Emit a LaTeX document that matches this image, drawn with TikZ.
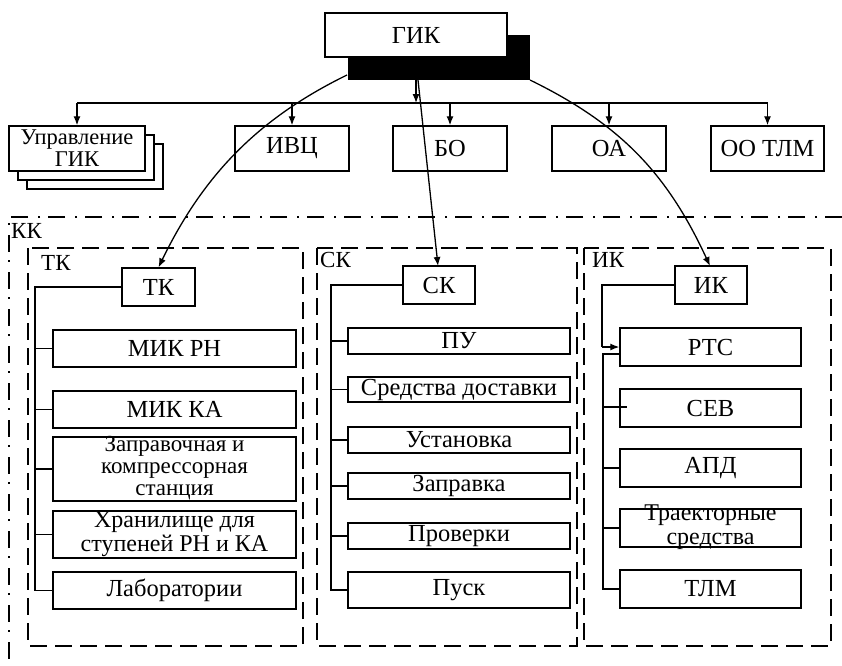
\documentclass[tikz,border=0pt]{standalone}
\usepackage{fontspec}
\setmainfont{Liberation Serif}
\usetikzlibrary{arrows.meta,calc}
\begin{document}
\begin{tikzpicture}[x=1pt,y=-1pt,
 box/.style={draw,line width=1.4pt,fill=white,inner sep=0pt,align=center,font=\fontsize{24.5}{22.5}\selectfont},
 txt/.style={inner sep=0pt,align=center,font=\fontsize{24}{23.5}\selectfont},
 lbl/.style={inner sep=0pt,anchor=west,font=\fontsize{23}{24}\selectfont},
 conn/.style={line width=1.3pt},
 arr/.style={line width=1.3pt,-{Latex[length=9pt,width=7pt]}},
 grp/.style={line width=1.4pt,dash pattern=on 17pt off 8pt},
 kkline/.style={line width=1.4pt,dash pattern=on 17pt off 8pt on 2pt off 10pt},
]
\useasboundingbox (0,0) rectangle (842,665);

% ---- top: GIK with shadow
\node[fill=black,inner sep=0pt,minimum width=182,minimum height=45] (gikshadow) at (439,57.5) {};
\node[box,minimum width=182,minimum height=44] (gik) at (416,35) {ГИК};

% ---- second level
\node[box,minimum width=136,minimum height=45] (upr3) at (95,166.5) {};
\node[box,minimum width=136,minimum height=45] (upr2) at (86,157.5) {};
\node[box,minimum width=136,minimum height=45] (upr) at (77,148.5) {};
\node[txt,font=\fontsize{22.5}{21.5}\selectfont] (uprtxt) at (77,148) {Управление\\ГИК};
\node[box,minimum width=114,minimum height=45] (ivc) at (292,148.5) {ИВЦ};
\node[box,minimum width=114,minimum height=45] (bo) at (450,148.5) {БО};
\node[box,minimum width=114,minimum height=45] (oa) at (609,148.5) {ОА};
\node[box,minimum width=113,minimum height=45] (ootlm) at (767.5,148.5) {ОО ТЛМ};

\coordinate (busg) at (416,103);
\coordinate (busl) at (77,103);
\coordinate (busr) at (767.5,103);
\draw[conn] (busl) -- (busr);
\draw[arr] (gik.south) -- (busg);
\foreach \n in {upr,ivc,bo,oa,ootlm}{
  \draw[arr] (\n.north |- busg) -- (\n.north);
}

% ---- KK frame (dash-dot)
\draw[kkline] (842,217) -- (9,217) -- (9,665);
\node[lbl] (kklbl) at (11,231) {КК};

% ---- group frames
\draw[grp] (28,248) rectangle (303,646);
\draw[grp] (317,248) rectangle (577,646);
\draw[grp] (584,248) rectangle (831,646);
\node[lbl] (tklbl) at (41,263) {ТК};
\node[lbl] (sklbl) at (320,260) {СК};
\node[lbl] (iklbl) at (592,260) {ИК};

% ---- TK column
\node[box,minimum width=73,minimum height=38] (tk) at (158.5,287) {ТК};
\node[box,minimum width=243,minimum height=37] (mikrn) at (174.5,348.5) {МИК РН};
\node[box,minimum width=243,minimum height=37] (mikka) at (174.5,409.5) {МИК КА};
\node[box,minimum width=243,minimum height=64] (zapr) at (174.5,469) {};
\node[txt,font=\fontsize{23}{21.8}\selectfont] (zaprtxt) at (174.5,468) {Заправочная и\\компрессорная\\станция};
\node[box,minimum width=243,minimum height=47] (hran) at (174.5,534.5) {};
\node[txt] (hrantxt) at (174.5,534) {Хранилище для\\ступеней РН и КА};
\node[box,minimum width=243,minimum height=37] (lab) at (174.5,590.5) {Лаборатории};
\coordinate (tkbus) at (35,287);
\draw[conn] (tk.west) -- (tkbus) -- (tkbus |- lab.west) -- (lab.west);
\foreach \n in {mikrn,mikka,zapr,hran}{
  \draw[conn] (tkbus |- \n.west) -- (\n.west);
}

% ---- SK column
\node[box,minimum width=72,minimum height=38] (sk) at (439,285) {СК};
\node[box,minimum width=222,minimum height=26] (pu) at (459,341) {ПУ};
\node[box,minimum width=222,minimum height=25] (sred) at (459,389.5) {Средства доставки};
\node[box,minimum width=222,minimum height=26] (ustan) at (459,440) {Установка};
\node[box,minimum width=222,minimum height=26] (zaprav) at (459,486) {Заправка};
\node[box,minimum width=222,minimum height=26] (prov) at (459,536) {Проверки};
\node[box,minimum width=222,minimum height=36] (pusk) at (459,590) {Пуск};
\coordinate (skbus) at (331,285);
\draw[conn] (sk.west) -- (skbus) -- (skbus |- pusk.west) -- (pusk.west);
\foreach \n in {pu,sred,ustan,zaprav,prov}{
  \draw[conn] (skbus |- \n.west) -- (\n.west);
}

% ---- IK column
\node[box,minimum width=72,minimum height=38] (ik) at (711,285) {ИК};
\node[box,minimum width=181,minimum height=38] (rts) at (710.5,347) {РТС};
\node[box,minimum width=181,minimum height=38] (sev) at (710.5,408) {СЕВ};
\node[box,minimum width=181,minimum height=38] (apd) at (710.5,468) {АПД};
\node[box,minimum width=181,minimum height=38] (traek) at (710.5,528) {};
\node[txt] (traektxt) at (710.5,527) {Траекторные\\средства};
\node[box,minimum width=181,minimum height=38] (tlm) at (710.5,589) {ТЛМ};
\coordinate (ikbus) at (602,285);
\draw[conn] (ik.west) -- (ikbus) -- (ikbus |- rts.west);
\draw[arr] (ikbus |- rts.west) -- (rts.west);
\coordinate (rtsl) at (620,354);
\coordinate (ikbus2) at (603,354);
\draw[conn] (rtsl) -- (ikbus2) -- (ikbus2 |- tlm.west) -- (tlm.west);
\coordinate (sevin) at (627,407);
\draw[conn] (ikbus2 |- sevin) -- (sevin);
\foreach \n in {apd,traek}{
  \draw[conn] (ikbus2 |- \n.west) -- (\n.west);
}

% ---- curved links from GIK to complexes
\coordinate (cl) at (347,75);
\coordinate (cm) at (418,80);
\coordinate (cr) at (530,80);
\draw[arr] (cl) .. controls (257,119) and (203,176) .. (tk.north);
\draw[arr] (cm) -- (438,266);
\draw[arr] (cr) .. controls (620,124) and (667,173) .. (710,266);
\end{tikzpicture}
\end{document}
